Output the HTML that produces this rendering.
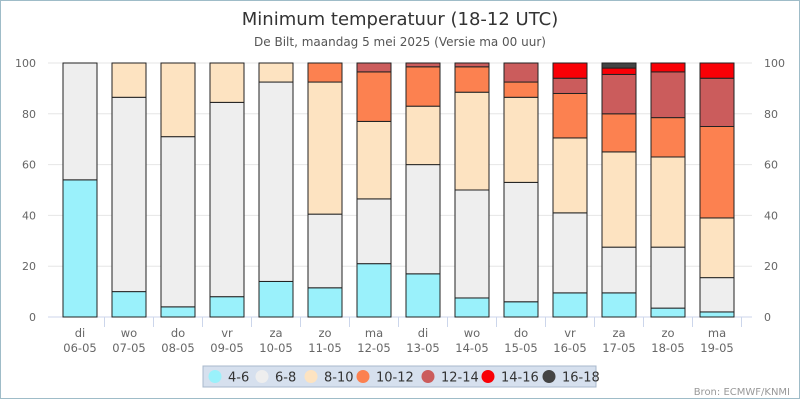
<!DOCTYPE html>
<html><head><meta charset="utf-8"><style>
body{margin:0;background:#fff;font-family:"Liberation Sans","DejaVu Sans",sans-serif}
#c{position:relative;width:800px;height:400px}
</style></head><body>
<div id="c">
<svg id="s" width="800" height="400" xmlns="http://www.w3.org/2000/svg" font-family="DejaVu Sans, Liberation Sans, sans-serif">
<rect x="0.5" y="0.5" width="799" height="398" fill="#fff" stroke="#9fbcc8"/>
<text x="400" y="25" text-anchor="middle" font-size="18" fill="#333">Minimum temperatuur (18-12 UTC)</text>
<text x="400" y="46" text-anchor="middle" font-size="12" fill="#555">De Bilt, maandag 5 mei 2025 (Versie ma 00 uur)</text>
<g id="grid"></g><g id="bars"></g><g id="xax"></g>
<rect x="203" y="366" width="393" height="21" fill="#d6e0ee" stroke="#a8b8cc"/>
<g id="leg"></g>
<text x="790" y="395" text-anchor="end" font-size="10" fill="#999">Bron: ECMWF/KNMI</text>
</svg></div>
<script>
const days=["di","wo","do","vr","za","zo","ma","di","wo","do","vr","za","zo","ma"];
const dates=["06-05","07-05","08-05","09-05","10-05","11-05","12-05","13-05","14-05","15-05","16-05","17-05","18-05","19-05"];
const seriesNames=["4-6","6-8","8-10","10-12","12-14","14-16","16-18"];
const s46=[54,10,4,8,14,11.5,21,17,7.5,6,9.5,9.5,3.5,2];
const s68=[46,76.5,67,76.5,78.5,29,25.5,43,42.5,47,31.5,18,24,13.5];
const s810=[0,13.5,29,15.5,7.5,52,30.5,23,38.5,33.5,29.5,37.5,35.5,23.5];
const s1012=[0,0,0,0,0,7.5,19.5,15.5,10,6,17.5,15,15.5,36];
const s1214=[0,0,0,0,0,0,3.5,1.5,1.5,7.5,6,15.5,18,19];
const s1416=[0,0,0,0,0,0,0,0,0,0,6,2.5,3.5,6];
const s1618=[0,0,0,0,0,0,0,0,0,0,0,2,0,0];
const yTicks=[0,20,40,60,80,100];
const colors=["#9af1fb","#eeeeee","#fde3c1","#fc8150","#cb5c5c","#f90006","#444444"];
const series=[s46,s68,s810,s1012,s1214,s1416,s1618];
const NS="http://www.w3.org/2000/svg";
const y=v=>317-v*2.54, x=i=>80+i*49;
function mk(t,a,p){const e=document.createElementNS(NS,t);for(const k in a)e.setAttribute(k,a[k]);p.appendChild(e);return e;}
const G=document.getElementById('grid'),B=document.getElementById('bars'),X=document.getElementById('xax'),L=document.getElementById('leg');
yTicks.forEach(v=>{
 const l=mk('line',{x1:48,x2:752,y1:y(v),y2:y(v),stroke:v?'#e6e6e6':'#ccd6eb'},G);
 
 
 const a=mk('text',{x:36,y:y(v)+4,'text-anchor':'end','font-size':11,fill:'#666'},G);a.textContent=v;
 
 
 const b=mk('text',{x:764,y:y(v)+4,'font-size':11,fill:'#666'},G);b.textContent=v;
 
 
});
days.forEach((d,i)=>{
 let cum=0;
 series.forEach((s,k)=>{const v=s[i];if(v<=0)return;
  const r=mk('rect',{x:x(i)-17,y:y(cum+v),width:34,height:v*2.54,fill:colors[k],stroke:'#222','stroke-width':1},B);
  
  
  cum+=v;});
 const t=mk('line',{x1:x(i)+24.5,x2:x(i)+24.5,y1:317,y2:327,stroke:'#ccd6eb'},X);
 
 
 const a=mk('text',{x:x(i),y:337,'text-anchor':'middle','font-size':11.5,fill:'#666'},X);a.textContent=d;
 
 
 const b=mk('text',{x:x(i),y:352,'text-anchor':'middle','font-size':11.5,fill:'#666'},X);b.textContent=dates[i];
 
 
});
const lx=[215,262,311,363,428,488,549];
seriesNames.forEach((n,k)=>{
 const c=mk('circle',{cx:lx[k],cy:376.5,r:6.5,fill:colors[k]},L);
 
 
 const t=mk('text',{x:lx[k]+13,y:381.5,'font-size':13,fill:'#333'},L);t.textContent=n;
 
 
});
</script>
</body></html>
